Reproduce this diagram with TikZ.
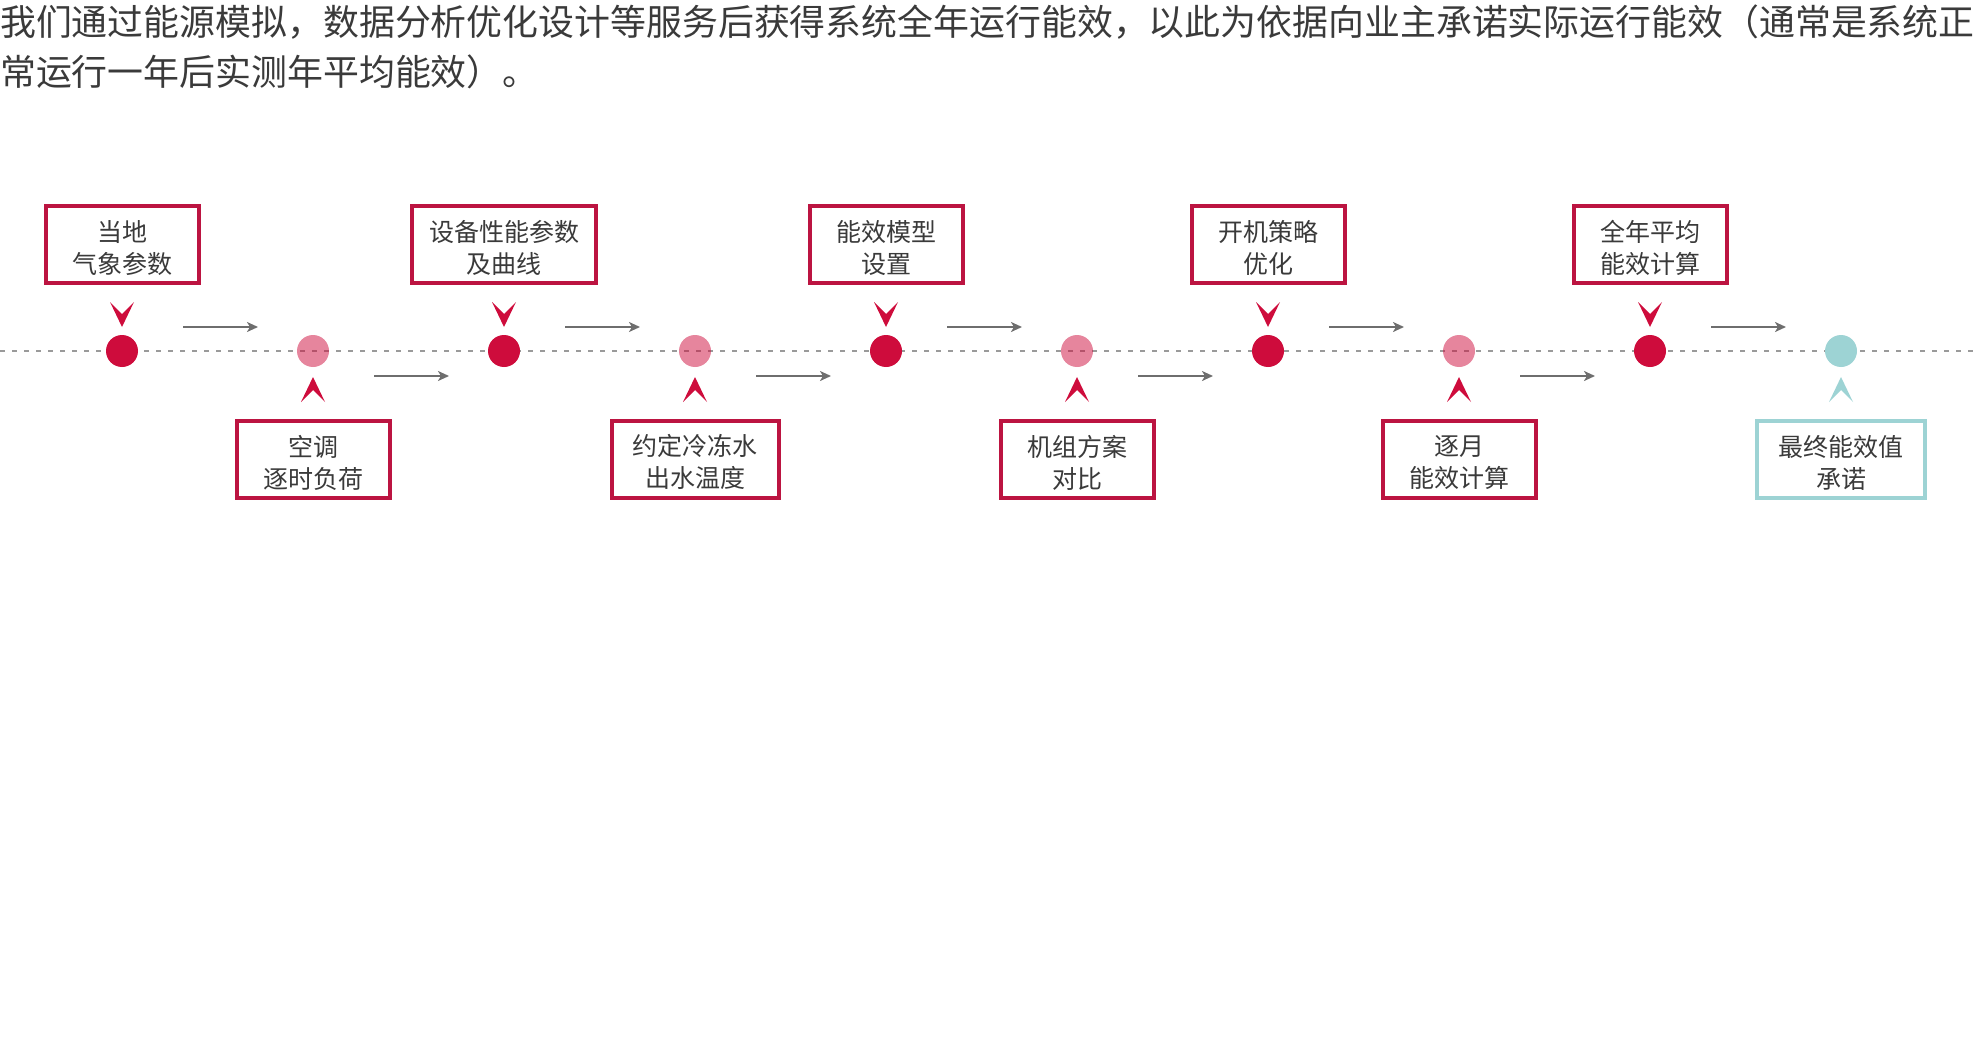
\documentclass[tikz,border=0pt]{standalone}
\usepackage{fontspec}
\newfontfamily\cjk{Noto Sans CJK SC}
\usetikzlibrary{arrows.meta}
\definecolor{boxred}{HTML}{BC1441}
\definecolor{dotred}{HTML}{CE0C3C}
\definecolor{teal}{HTML}{9DD3D4}
\definecolor{txtgray}{HTML}{3A3A3A}
\definecolor{flowgray}{HTML}{6E6E6E}
\definecolor{dashgray}{HTML}{9A9A9A}
\tikzset{
  box/.style={draw=boxred, line width=4pt, fill=white, align=center, text=txtgray,
    minimum width=153pt, minimum height=77pt, inner sep=0pt,
    execute at begin node={\rule{0pt}{60pt}},
    font=\cjk\fontsize{25}{32}\selectfont},
  hub/.style={circle, fill=dotred, minimum size=32pt, inner sep=0pt},
  chev/.style={fill=dotred},
  flow/.style={draw=flowgray, line width=2.4pt, -{Stealth[length=11pt,width=10pt,inset=3pt]}},
}
\begin{document}
\begin{tikzpicture}[x=1pt, y=-1pt]
    \useasboundingbox (0,0) rectangle (1979,1054);

    % 说明文字
    \node[anchor=north west, inner sep=0pt, align=left, text=txtgray,
      font=\cjk\fontsize{35.9}{49.5}\selectfont] (intro) at (0,5)
      {我们通过能源模拟，数据分析优化设计等服务后获得系统全年运行能效，以此为依据向业主承诺实际运行能效（通常是系统正\\常运行一年后实测年平均能效）。};

    % 时间轴
    \draw[dashgray, line width=1.8pt, dash pattern=on 5pt off 7pt] (0,351) -- (1979,351);

    % 节点
    \node[hub] (d1) at (122,351) {}; % 当地气象参数
    \node[hub, fill opacity=0.5] (d2) at (313,351) {}; % 空调逐时负荷
    \node[hub] (d3) at (504,351) {}; % 设备性能参数
    \node[hub, fill opacity=0.5] (d4) at (695,351) {}; % 冷冻水温度
    \node[hub] (d5) at (886,351) {}; % 能效模型
    \node[hub, fill opacity=0.5] (d6) at (1077,351) {}; % 机组方案
    \node[hub] (d7) at (1268,351) {}; % 开机策略
    \node[hub, fill opacity=0.5] (d8) at (1459,351) {}; % 逐月能效
    \node[hub] (d9) at (1650,351) {}; % 全年平均能效
    \node[hub, fill=teal] (d10) at (1841,351) {}; % 最终承诺

    % 上方方框
    \node[box] (b1) at (122,244.5) {当地\\气象参数};
    \node[box, minimum width=184pt] (b3) at (504,244.5) {设备性能参数\\及曲线};
    \node[box] (b5) at (886,244.5) {能效模型\\设置};
    \node[box] (b7) at (1268,244.5) {开机策略\\优化};
    \node[box] (b9) at (1650,244.5) {全年平均\\能效计算};

    % 下方方框
    \node[box] (b2) at (313,459) {空调\\逐时负荷};
    \node[box, minimum width=167pt] (b4) at (695,459) {约定冷冻水\\出水温度};
    \node[box] (b6) at (1077,459) {机组方案\\对比};
    \node[box] (b8) at (1459,459) {逐月\\能效计算};
    \node[box, draw=teal, minimum width=168pt] (b10) at (1841,459) {最终能效值\\承诺};

    % 指向节点的箭头
    \fill[chev, shift={(d1)}] (-12,-49) -- (0,-37) -- (12,-49) -- (0,-24) -- cycle;
    \fill[chev, shift={(d3)}] (-12,-49) -- (0,-37) -- (12,-49) -- (0,-24) -- cycle;
    \fill[chev, shift={(d5)}] (-12,-49) -- (0,-37) -- (12,-49) -- (0,-24) -- cycle;
    \fill[chev, shift={(d7)}] (-12,-49) -- (0,-37) -- (12,-49) -- (0,-24) -- cycle;
    \fill[chev, shift={(d9)}] (-12,-49) -- (0,-37) -- (12,-49) -- (0,-24) -- cycle;
    \fill[chev, shift={(d2)}] (-12,51) -- (0,39) -- (12,51) -- (0,26) -- cycle;
    \fill[chev, shift={(d4)}] (-12,51) -- (0,39) -- (12,51) -- (0,26) -- cycle;
    \fill[chev, shift={(d6)}] (-12,51) -- (0,39) -- (12,51) -- (0,26) -- cycle;
    \fill[chev, shift={(d8)}] (-12,51) -- (0,39) -- (12,51) -- (0,26) -- cycle;
    \fill[chev, fill=teal, shift={(d10)}] (-12,51) -- (0,39) -- (12,51) -- (0,26) -- cycle;

    % 流程箭头
    \draw[flow] ([shift={(61,-24)}]d1.center) -- ([shift={(136,-24)}]d1.center);
    \draw[flow] ([shift={(61,25)}]d2.center) -- ([shift={(136,25)}]d2.center);
    \draw[flow] ([shift={(61,-24)}]d3.center) -- ([shift={(136,-24)}]d3.center);
    \draw[flow] ([shift={(61,25)}]d4.center) -- ([shift={(136,25)}]d4.center);
    \draw[flow] ([shift={(61,-24)}]d5.center) -- ([shift={(136,-24)}]d5.center);
    \draw[flow] ([shift={(61,25)}]d6.center) -- ([shift={(136,25)}]d6.center);
    \draw[flow] ([shift={(61,-24)}]d7.center) -- ([shift={(136,-24)}]d7.center);
    \draw[flow] ([shift={(61,25)}]d8.center) -- ([shift={(136,25)}]d8.center);
    \draw[flow] ([shift={(61,-24)}]d9.center) -- ([shift={(136,-24)}]d9.center);
\end{tikzpicture}
\end{document}
